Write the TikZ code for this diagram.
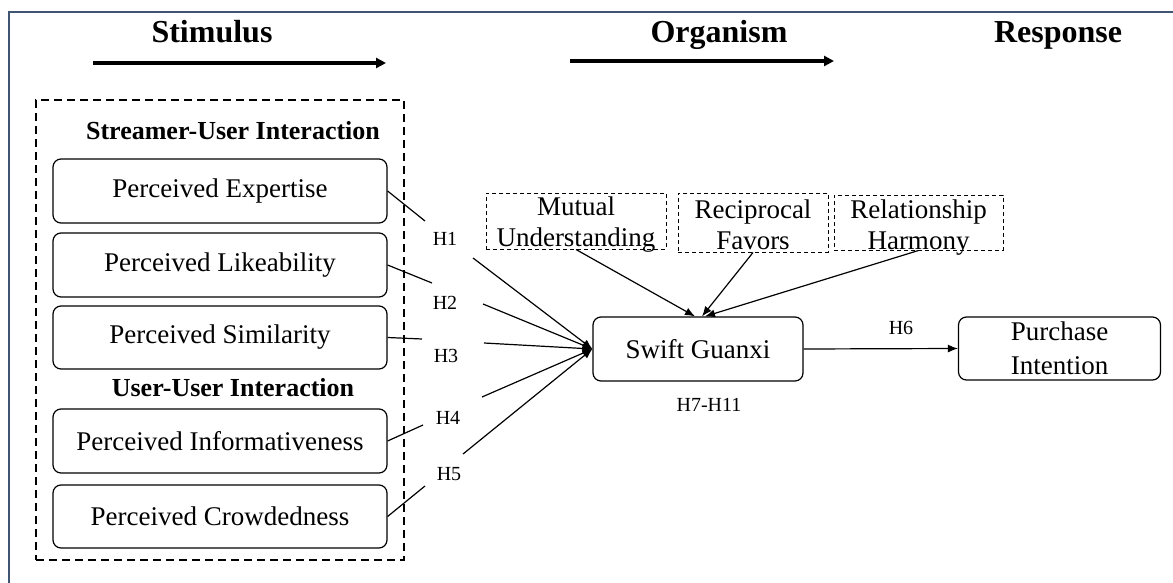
\documentclass[tikz,border=0pt]{standalone}
\usepackage{fontspec}
\setmainfont{Liberation Serif}
\usetikzlibrary{arrows.meta,calc}
\definecolor{framecol}{RGB}{63,85,115}
\begin{document}
\begin{tikzpicture}[x=1pt,y=-1pt,
  head/.style={font=\fontsize{32}{36}\selectfont\bfseries,inner sep=0pt},
  subhead/.style={font=\fontsize{26}{30}\selectfont\bfseries,inner sep=0pt},
  box/.style={draw,rounded corners=8pt,line width=1.2pt,minimum width=334pt,minimum height=64pt,inner sep=0pt,font=\fontsize{27}{31}\selectfont},
  medbox/.style={draw,line width=1pt,dash pattern=on 4pt off 3pt,inner sep=0pt},
  medtext/.style={inner sep=0pt,align=center,font=\fontsize{27}{31}\selectfont},
  hlabel/.style={font=\fontsize{20}{24}\selectfont,inner sep=0pt},
  harrow/.style={line width=3.2pt,-{Triangle[length=10pt,width=10pt]}},
  conn/.style={line width=1.2pt},
  arr/.style={line width=1.2pt,-{Latex[length=10pt,width=8pt]}}]
\useasboundingbox (0,0) rectangle (1173,583);
% frame
\draw[framecol,line width=1.6pt] (9,583) -- (9,12) -- (1173,12);
% headings
\node[head,anchor=base] (stim) at (212,43) {Stimulus};
\node[head,anchor=base] (org) at (719,43) {Organism};
\node[head,anchor=base] (resp) at (1058,43) {Response};
\coordinate (sa1) at (93,63); \coordinate (sa2) at (386,63);
\coordinate (oa1) at (570,61); \coordinate (oa2) at (834,61);
\draw[harrow] (sa1) -- (sa2);
\draw[harrow] (oa1) -- (oa2);
% stimulus group
\node[draw,line width=2pt,dash pattern=on 8pt off 5pt,minimum width=368pt,minimum height=460pt,inner sep=0pt] (grp) at (220,330) {};
\node[subhead] (sui) at (233,131) {Streamer-User Interaction};
\node[subhead] (uui) at (233,388) {User-User Interaction};
\node[box] (pe) at (220,191) {Perceived Expertise};
\node[box] (pl) at (220,265) {Perceived Likeability};
\node[box,minimum height=63pt] (ps) at (220,337.5) {Perceived Similarity};
\node[box] (pin) at (220,441) {Perceived Informativeness};
\node[box,minimum height=63pt] (pc) at (220,516.5) {Perceived Crowdedness};
% organism / response
\node[box,minimum width=210pt] (sg) at (698,349) {Swift Guanxi};
\node[box,minimum width=202pt,minimum height=63pt,align=center,font=\fontsize{27}{34}\selectfont] (pi) at (1059.5,348.5) {Purchase\\Intention};
% mediators
\node[medbox,minimum width=180pt,minimum height=56pt,label={[medtext,yshift=-4pt]center:{Mutual\\Understanding}}] (mu) at (576,221) {};
\node[medbox,minimum width=150pt,minimum height=59pt,label={[medtext,yshift=-2pt]center:{Reciprocal\\Favors}}] (rf) at (753,222.5) {};
\node[medbox,minimum width=169pt,minimum height=55pt,label={[medtext,yshift=-5pt]center:{Relationship\\Harmony}}] (rh) at (918.5,222.5) {};
% labels
\node[hlabel] (h1) at (445,239) {H1};
\node[hlabel] (h2) at (445,303) {H2};
\node[hlabel] (h3) at (446,356) {H3};
\node[hlabel] (h4) at (448,418) {H4};
\node[hlabel] (h5) at (449,474) {H5};
\node[hlabel] (h6) at (901,328) {H6};
\node[hlabel] (h7) at (709,405) {H7-H11};
% connectors
\coordinate (e1) at (425,221); \coordinate (s1) at (473,258);
\coordinate (e2) at (432,283); \coordinate (s2) at (483,304);
\coordinate (e3) at (422,339); \coordinate (s3) at (484,343);
\coordinate (e4) at (423,425); \coordinate (s4) at (482,397);
\coordinate (e5) at (425,486); \coordinate (s5) at (463,454);
\draw[conn] (pe.east) -- (e1);
\draw[conn] (pl.east) -- (e2);
\draw[conn] (ps.east) -- (e3);
\draw[conn] (pin.east) -- (e4);
\draw[conn] (pc.east) -- (e5);
\draw[arr] (s1) -- (sg.west);
\draw[arr] (s2) -- (sg.west);
\draw[arr] (s3) -- (sg.west);
\draw[arr] (s4) -- (sg.west);
\draw[arr] (s5) -- (sg.west);
\draw[arr] (mu.south) -- ([xshift=-3pt]sg.north);
\draw[arr] (rf.south) -- ([xshift=4pt]sg.north);
\draw[arr] (rh.south) -- ([xshift=7pt]sg.north);
\draw[arr] (sg.east) -- (pi.west);
\end{tikzpicture}
\end{document}
